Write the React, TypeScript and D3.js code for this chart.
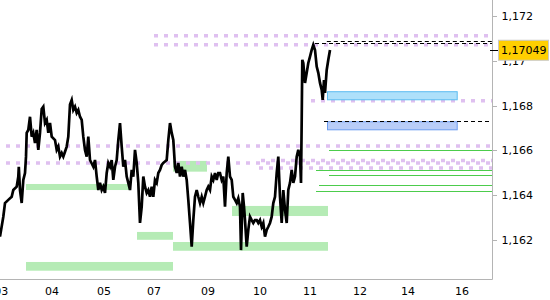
import React from "react";
import * as d3 from "d3";

const W = 550;
const H = 300;
const PLOT_RIGHT = 492;
const PLOT_BOTTOM = 279;

// time axis in bar index units
const xDomain = [0, 246];
const yDomain = [1.16026, 1.17271];

const xTickValues = [0.65, 26, 52, 77, 104, 130, 155, 180, 204, 231];
const xTickLabels = ["03", "04", "05", "07", "09", "10", "11", "12", "14", "16"];

const yTickValues = [1.162, 1.164, 1.166, 1.168, 1.17, 1.172];
const yTickLabels = ["1,162", "1,164", "1,166", "1,168", "1,17", "1,172"];

const lastPrice = 1.17049;
const lastPriceLabel = "1,17049";

const priceT = [
  0, 1.65, 2.5, 4.15, 5.85, 6.65, 8.35, 9.15, 9.4, 10, 10.85, 11.65, 12.5, 13, 13.35, 14.15, 15, 15.85, 16.65, 17.5,
  18.35, 19.15, 20, 20.85, 21.65, 22.5, 23.35, 24.15, 25, 25.85, 27.5, 28.35, 29.15, 30, 30.85, 31.65, 32.5, 33.35,
  34.15, 35, 35.85, 36.65, 37.5, 38.35, 39.15, 40, 40.85, 41.65, 42.5, 43.35, 44.15, 45, 46.65, 47.5, 48.35, 49.15,
  50, 50.85, 51.65, 52.5, 53.35, 54.15, 55, 55.85, 56.65, 57.5, 58.35, 59.15, 60, 60.85, 61.65, 62.5, 63.35, 64.15,
  65, 65.85, 66.65, 67.5, 68.35, 69.15, 70, 70.85, 71.65, 72.5, 73.35, 74.15, 75, 75.85, 76.65, 77.5, 78.35, 79.15,
  80, 80.85, 81.65, 82.5, 83.35, 84.15, 85, 85.85, 86.65, 87.5, 88.35, 89.15, 90, 90.85, 91.65, 92.5, 93.35, 94.15,
  95, 95.85, 96.65, 97.5, 98.35, 99.15, 100, 100.85, 101.65, 102.5, 103.35, 104.15, 105, 105.85, 106.65, 107.5,
  108.35, 109.15, 110, 110.85, 111.65, 112.5, 113.35, 114.15, 115, 115.85, 116.65, 117.5, 118.35, 119.15, 120,
  120.5, 121.35, 122, 122.5, 123.35, 124.15, 125, 125.85, 126.65, 127.5, 128.35, 129.15, 130, 130.85, 131.65, 132.5,
  133.35, 134.15, 135, 135.85, 136.65, 137.5, 138.35, 139.15, 140, 140.85, 141.65, 142.5, 143.35, 144.15, 145,
  145.85, 146.65, 147.5, 148.35, 149.15, 150, 150.5, 150.85, 151.15, 151.65, 152.5, 153.35, 154.15, 155, 155.85,
  156.65, 157.5, 158.35, 159.15, 160, 160.85, 161.35, 162, 162.5, 163.35, 164.15, 165,
];

const priceV = [
  1.16215, 1.16304, 1.16365, 1.16379, 1.16393, 1.16423, 1.16438, 1.16483, 1.16527, 1.16423, 1.16365, 1.16468,
  1.16499, 1.16572, 1.16678, 1.16691, 1.1675, 1.16661, 1.16678, 1.16633, 1.16691, 1.16602, 1.16678, 1.16785,
  1.16795, 1.16722, 1.16736, 1.16678, 1.16722, 1.16661, 1.16646, 1.16602, 1.16617, 1.16572, 1.16588, 1.16572,
  1.16594, 1.16617, 1.16661, 1.16805, 1.16825, 1.1678, 1.16795, 1.16767, 1.1678, 1.1675, 1.16736, 1.16661,
  1.16602, 1.16572, 1.16661, 1.16557, 1.16527, 1.16557, 1.16483, 1.16423, 1.16455, 1.16423, 1.16438, 1.1641,
  1.16499, 1.16544, 1.16527, 1.16557, 1.16468, 1.16527, 1.16557, 1.16646, 1.16722, 1.16617, 1.16527, 1.16557,
  1.16483, 1.16455, 1.16423, 1.16513, 1.16483, 1.16602, 1.16544, 1.16455, 1.16276, 1.16349, 1.16483, 1.16438,
  1.1641, 1.16423, 1.16393, 1.16438, 1.16393, 1.16468, 1.16455, 1.16499, 1.16513, 1.16535, 1.16544, 1.1655,
  1.16557, 1.16646, 1.16722, 1.16678, 1.16646, 1.16527, 1.16499, 1.16544, 1.16483, 1.16527, 1.16483, 1.16513,
  1.16468, 1.16379, 1.16276, 1.1617, 1.16289, 1.16393, 1.16423, 1.16393, 1.16365, 1.16393, 1.16365, 1.16393,
  1.16423, 1.16438, 1.16423, 1.16483, 1.16468, 1.16499, 1.16468, 1.16499, 1.16499, 1.16468, 1.16483, 1.16349,
  1.16499, 1.16572, 1.16483, 1.16468, 1.16393, 1.16379, 1.16365, 1.16386, 1.16349, 1.16155, 1.1641, 1.16349,
  1.16289, 1.1617, 1.16245, 1.16304, 1.16289, 1.16276, 1.16289, 1.16289, 1.16276, 1.16289, 1.16259, 1.16276,
  1.16215, 1.16245, 1.16259, 1.16276, 1.16304, 1.16365, 1.16393, 1.16499, 1.16572, 1.16393, 1.16276, 1.16423,
  1.16334, 1.16276, 1.16423, 1.16455, 1.16513, 1.16455, 1.16483, 1.16572, 1.16602, 1.16572, 1.16455, 1.16736,
  1.17004, 1.1699, 1.16901, 1.16946, 1.1699, 1.17018, 1.17048, 1.17071, 1.17048, 1.16974, 1.16946, 1.16901,
  1.1687, 1.16825, 1.16914, 1.16856, 1.16959, 1.17004, 1.17048,
];

// green support/resistance zones
const greenZones = [
  { t0: 13, t1: 65, hi: 1.1645, lo: 1.16423 },
  { t0: 86.5, t1: 103.5, hi: 1.16553, lo: 1.16505 },
  { t0: 116, t1: 164, hi: 1.16352, lo: 1.16307 },
  { t0: 68.5, t1: 86.5, hi: 1.16236, lo: 1.16201 },
  { t0: 86.5, t1: 164, hi: 1.16191, lo: 1.16152 },
  { t0: 13, t1: 86.5, hi: 1.16102, lo: 1.16063 },
];

const blueZones = [
  { t0: 163.5, t1: 228.35, hi: 1.16864, lo: 1.16828, fill: "#aee0fa", stroke: "#5cbcf0" },
  { t0: 163.5, t1: 228.35, hi: 1.1673, lo: 1.16694, fill: "#b9cdf8", stroke: "#6c9cf0" },
];

const dottedLevels = [
  { p: 1.17111, t0: 77, phase: 4 },
  { p: 1.17071, t0: 77, phase: 4 },
  { p: 1.16821, t0: 155.5, phase: 1 },
  { p: 1.1662, t0: 0, phase: 6 },
  { p: 1.16544, t0: 0, phase: 6 },
  { p: 1.16555, t0: 129, phase: 1 },
  { p: 1.16521, t0: 129, phase: 9 },
];

const dashedLevels = [
  { p: 1.1709, t0: 163.4 },
  { p: 1.17078, t0: 157.5 },
  { p: 1.16733, t0: 162 },
];

const greenLevels = [
  { p: 1.16602, t0: 164.5 },
  { p: 1.16511, t0: 158 },
  { p: 1.16489, t0: 164.5 },
  { p: 1.16444, t0: 159.5 },
  { p: 1.16417, t0: 158 },
];

const FONT = "'DejaVu Sans', Verdana, sans-serif";

export default function App() {
  const x = d3.scaleLinear().domain(xDomain).range([0, PLOT_RIGHT]);
  const y = d3.scaleLinear().domain(yDomain).range([PLOT_BOTTOM, 0]);

  const pts: [number, number][] = priceT.map((t, i) => [t, priceV[i]]);
  const line = d3
    .line<[number, number]>()
    .x((d) => x(d[0]))
    .y((d) => y(d[1]));

  const xEnd = x(xDomain[1]);
  const yLast = y(lastPrice);

  return (
    <div style={{ position: "fixed", left: 0, top: 0 }}>
      <svg width={W} height={H} style={{ display: "block", background: "#fff" }}>
        {/* green zones */}
        {greenZones.map((z, i) => (
          <rect
            key={"g" + i}
            x={x(z.t0)}
            y={y(z.hi)}
            width={x(z.t1) - x(z.t0)}
            height={y(z.lo) - y(z.hi)}
            fill="#b5ebb5"
          />
        ))}
        {/* dotted levels */}
        {dottedLevels.map((l, i) => {
          const x0 = x(l.t0);
          const off = (((x0 - l.phase) % 10) + 10) % 10;
          return (
            <line
              key={"d" + i}
              x1={x0}
              x2={xEnd}
              y1={y(l.p)}
              y2={y(l.p)}
              stroke="#dfc0f0"
              strokeWidth={3.5}
              strokeDasharray="4 6"
              strokeDashoffset={off}
            />
          );
        })}
        {/* price line */}
        <path d={line(pts) || ""} fill="none" stroke="#000" strokeWidth={2.7} strokeLinejoin="miter" strokeMiterlimit={4} />
        {/* blue zones */}
        {blueZones.map((z, i) => (
          <rect
            key={"b" + i}
            x={x(z.t0) + 0.5}
            y={y(z.hi) + 0.5}
            width={x(z.t1) - x(z.t0)}
            height={y(z.lo) - y(z.hi)}
            fill={z.fill}
            stroke={z.stroke}
            strokeWidth={1}
          />
        ))}
        {/* green thin levels */}
        {greenLevels.map((l, i) => (
          <line
            key={"gl" + i}
            x1={x(l.t0)}
            x2={xEnd}
            y1={Math.round(y(l.p)) + 0.5}
            y2={Math.round(y(l.p)) + 0.5}
            stroke="#4ccc4c"
            strokeWidth={1}
          />
        ))}
        {/* dashed levels */}
        {dashedLevels.map((l, i) => (
          <line
            key={"dl" + i}
            x1={x(l.t0)}
            x2={xEnd}
            y1={Math.round(y(l.p)) + 0.5}
            y2={Math.round(y(l.p)) + 0.5}
            stroke="#000"
            strokeWidth={1}
            strokeDasharray="4 3"
          />
        ))}
        {/* axes */}
        <line x1={PLOT_RIGHT + 0.5} x2={PLOT_RIGHT + 0.5} y1={0} y2={PLOT_BOTTOM + 0.5} stroke="#b4b4b4" />
        <line x1={0} x2={PLOT_RIGHT + 0.5} y1={PLOT_BOTTOM + 0.5} y2={PLOT_BOTTOM + 0.5} stroke="#b4b4b4" />
        {yTickValues.map((v, i) => (
          <g key={"yt" + i}>
            <line
              x1={PLOT_RIGHT}
              x2={PLOT_RIGHT + 5}
              y1={Math.round(y(v)) + 0.5}
              y2={Math.round(y(v)) + 0.5}
              stroke="#b4b4b4"
            />
            <text x={PLOT_RIGHT + 9.5} y={y(v)} dy="0.36em" fontFamily={FONT} fontSize={11} fill="#000">
              {yTickLabels[i]}
            </text>
          </g>
        ))}
        {xTickValues.map((v, i) => (
          <text
            key={"xt" + i}
            x={x(v)}
            y={295}
            textAnchor="middle"
            fontFamily={FONT}
            fontSize={11}
            fill="#000"
          >
            {xTickLabels[i]}
          </text>
        ))}
        {/* last price marker */}
        <line x1={PLOT_RIGHT - 2} x2={PLOT_RIGHT + 6} y1={Math.round(yLast) + 0.5} y2={Math.round(yLast) + 0.5} stroke="#000" />
        <rect x={498.5} y={yLast - 9.5} width={50} height={20} fill="#ffcf00" stroke="#c8c8c8" />
        <text x={501} y={yLast} dy="0.36em" fontFamily={FONT} fontSize={11} fill="#000">
          {lastPriceLabel}
        </text>
      </svg>
    </div>
  );
}
